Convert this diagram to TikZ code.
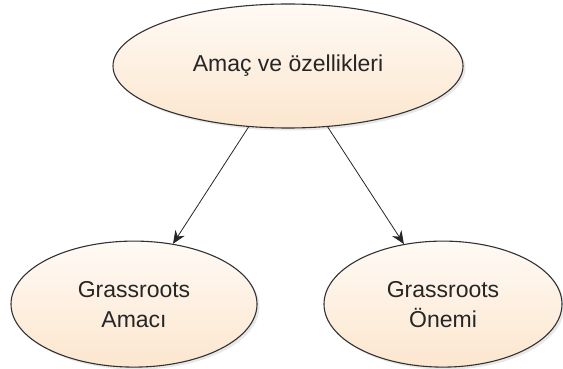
\documentclass[tikz,border=0pt]{standalone}
\usepackage{fontspec}
\setmainfont{Liberation Sans}
\usepackage{xcolor}
\usepackage{tikz}
\usetikzlibrary{arrows.meta, positioning, shapes.geometric, shadows}

\definecolor{peachtop}{RGB}{255,250,245}
\definecolor{peachbottom}{RGB}{252,230,206}
\definecolor{edgegray}{RGB}{50,50,50}

\begin{document}
\begin{tikzpicture}[x=1pt, y=-1pt]
            % Bubble styles
            \tikzstyle{bubble} = [ellipse, draw=edgegray, line width=1.1pt, top color=peachtop, bottom color=peachbottom, text=black!85, align=center, inner sep=0pt, font=\fontsize{23}{30}\selectfont, drop shadow={shadow xshift=2.5pt, shadow yshift=-2.5pt, opacity=0.18, fill=gray}]
            \tikzstyle{link} = [-{Stealth[length=13pt, width=11pt]}, line width=0.8pt, black!85]
            \useasboundingbox (0,0) rectangle (563,369);
            % Top and children
            \node[bubble, minimum width=350pt, minimum height=124pt] (goals) at (288,66) {Amaç ve özellikleri};
            \node[bubble, minimum width=246pt, minimum height=126pt, below=112pt of goals, xshift=-154pt] (purpose) {Grassroots\\Amacı};
            \node[bubble, minimum width=238pt, minimum height=126pt, below=112pt of goals, xshift=155pt] (importance) {Grassroots\\Önemi};
            % Connections
            \draw[link] (goals) -- (purpose);
            \draw[link] (goals) -- (importance);
        \end{tikzpicture}
\end{document}
